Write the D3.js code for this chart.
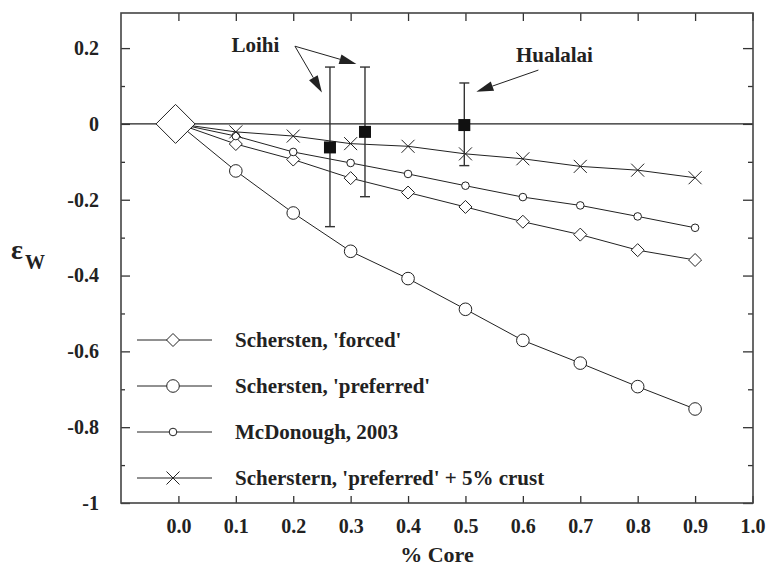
<!DOCTYPE html>
<html>
<head>
<meta charset="utf-8">
<script src="https://cdn.jsdelivr.net/npm/d3@7"></script>
<style>
  body { margin: 0; background: #fff; }
  svg { display: block; }
  text { font-family: "Liberation Serif", "Times New Roman", serif; font-weight: bold; fill: #222; }
</style>
</head>
<body>
<svg width="767" height="568"></svg>
<script>
var width = 767;
var height = 568;

// % core on x
var coreFrac = [0, 0.1, 0.2, 0.3, 0.4, 0.5, 0.6, 0.7, 0.8, 0.9];

// model curves (eps W)
var forced    = [0, -0.053, -0.094, -0.143, -0.181, -0.219, -0.258, -0.292, -0.333, -0.359];
var preferred = [0, -0.124, -0.235, -0.336, -0.408, -0.489, -0.571, -0.631, -0.693, -0.752];
var mcdonough = [0, -0.032, -0.074, -0.103, -0.132, -0.163, -0.193, -0.215, -0.244, -0.274];
var crust     = [0, -0.021, -0.032, -0.052, -0.059, -0.079, -0.092, -0.112, -0.122, -0.142];

var legendLabels = ["Schersten, 'forced'", "Schersten, 'preferred'", "McDonough, 2003", "Scherstern, 'preferred' + 5% crust"];

// measured samples
var sampleX  = [0.264, 0.325, 0.498];
var sampleY  = [-0.062, -0.021, -0.003];
var sampleHi = [0.15, 0.15, 0.108];
var sampleLo = [-0.271, -0.192, -0.11];

var xTicks = [0, 0.1, 0.2, 0.3, 0.4, 0.5, 0.6, 0.7, 0.8, 0.9, 1.0];
var yTicks = [0.2, 0, -0.2, -0.4, -0.6, -0.8, -1];
var yTickLabels = ["0.2", "0", "-0.2", "-0.4", "-0.6", "-0.8", "-1"];
var yMinor = [0.1, -0.1, -0.3, -0.5, -0.7, -0.9];

var plotLeft = 121, plotRight = 753, plotTop = 13, plotBottom = 503;

var x = d3.scaleLinear().domain([-0.1, 1.0]).range([plotLeft, 752.5]);
var y = d3.scaleLinear().domain([-1, 0.2926]).range([plotBottom, plotTop]);

var chart = d3.select('svg');
var ink = "#222";

// zero line
chart.append("line")
    .attr("x1", plotLeft).attr("x2", plotRight)
    .attr("y1", y(0)).attr("y2", y(0))
    .attr("stroke", ink).attr("stroke-width", 1.2);

// axes (ticks pointing inward, no domain path)
function tidy(g) { g.select(".domain").remove(); g.selectAll("line").attr("stroke", "#333").attr("stroke-width", 1.3); }

chart.append("g").attr("transform", "translate(0," + plotBottom + ")")
    .call(d3.axisBottom(x).tickValues(xTicks).tickSize(-7).tickPadding(16).tickFormat(d3.format(".1f")))
    .call(tidy)
    .selectAll("text").attr("font-size", "20px").attr("font-family", null).attr("fill", ink);
chart.append("g").attr("transform", "translate(0," + plotTop + ")")
    .call(d3.axisTop(x).tickValues(xTicks).tickSize(-8).tickFormat(""))
    .call(tidy);

chart.append("g").attr("transform", "translate(" + plotLeft + ",0)")
    .call(d3.axisLeft(y).tickValues(yTicks).tickSize(-9).tickPadding(22)
        .tickFormat(function (d, i) { return yTickLabels[i]; }))
    .call(tidy)
    .selectAll("text").attr("font-size", "20px").attr("font-family", null).attr("fill", ink);
chart.append("g").attr("transform", "translate(" + plotLeft + ",0)")
    .call(d3.axisLeft(y).tickValues(yMinor).tickSize(-4).tickFormat(""))
    .call(tidy);
chart.append("g").attr("transform", "translate(" + plotRight + ",0)")
    .call(d3.axisRight(y).tickValues(yTicks).tickSize(-10).tickFormat(""))
    .call(tidy);
chart.append("g").attr("transform", "translate(" + plotRight + ",0)")
    .call(d3.axisRight(y).tickValues(yMinor).tickSize(-5).tickFormat(""))
    .call(tidy);

// frame
chart.append("rect")
    .attr("x", plotLeft).attr("y", plotTop)
    .attr("width", plotRight - plotLeft).attr("height", plotBottom - plotTop)
    .attr("fill", "none").attr("stroke", "#444").attr("stroke-width", 1.6);

// marker drawers
function diamond(g, r) {
    g.append("path").attr("d", "M0," + (-r) + "L" + r + ",0L0," + r + "L" + (-r) + ",0Z")
        .attr("fill", "#fff").attr("stroke", ink).attr("stroke-width", 1);
}
function circle(g, r) {
    g.append("circle").attr("r", r).attr("fill", "#fff").attr("stroke", ink).attr("stroke-width", 1);
}
function cross(g, r) {
    g.append("path").attr("d", "M" + (-r) + "," + (-r) + "L" + r + "," + r + "M" + (-r) + "," + r + "L" + r + "," + (-r))
        .attr("fill", "none").attr("stroke", ink).attr("stroke-width", 1);
}

var series = [
    { values: forced, draw: function (g) { diamond(g, 6.5); } },
    { values: preferred, draw: function (g) { circle(g, 6.3); } },
    { values: mcdonough, draw: function (g) { circle(g, 3.8); } },
    { values: crust, draw: function (g) { cross(g, 6.5); } }
];

var line = d3.line()
    .x(function (d) { return x(d[0]); })
    .y(function (d) { return y(d[1]); });

series.forEach(function (s) {
    var pts = coreFrac.map(function (c, i) { return [c, s.values[i]]; });
    chart.append("path").attr("d", line(pts))
        .attr("fill", "none").attr("stroke", ink).attr("stroke-width", 1);
    pts.slice(1).forEach(function (p) {
        var g = chart.append("g").attr("transform", "translate(" + x(p[0]) + "," + y(p[1]) + ")");
        s.draw(g);
    });
});

// big diamond at origin
var origin = chart.append("g").attr("transform", "translate(" + x(-0.005) + "," + y(0) + ")");
diamond(origin, 19.5);

// error bars and squares
sampleX.forEach(function (sx, i) {
    var cx = x(sx);
    chart.append("line").attr("x1", cx).attr("x2", cx)
        .attr("y1", y(sampleHi[i])).attr("y2", y(sampleLo[i]))
        .attr("stroke", "#333").attr("stroke-width", 1.4);
    [sampleHi[i], sampleLo[i]].forEach(function (v) {
        chart.append("line").attr("x1", cx - 5).attr("x2", cx + 5)
            .attr("y1", y(v)).attr("y2", y(v))
            .attr("stroke", "#333").attr("stroke-width", 1.4);
    });
    chart.append("rect")
        .attr("x", cx - 6).attr("y", y(sampleY[i]) - 6)
        .attr("width", 12).attr("height", 12)
        .attr("fill", "#111");
});

// annotations with arrows
function arrow(x0, y0, x1, y1) {
    var ax = x(x0), ay = y(y0), bx = x(x1), by = y(y1);
    var dx = bx - ax, dy = by - ay, len = Math.sqrt(dx * dx + dy * dy);
    var ux = dx / len, uy = dy / len;
    var hl = 17, hw = 5;
    var baseX = bx - ux * hl, baseY = by - uy * hl;
    chart.append("line").attr("x1", ax).attr("y1", ay).attr("x2", baseX).attr("y2", baseY)
        .attr("stroke", ink).attr("stroke-width", 1);
    chart.append("path")
        .attr("d", "M" + bx + "," + by +
            "L" + (baseX - uy * hw) + "," + (baseY + ux * hw) +
            "L" + (baseX + uy * hw) + "," + (baseY - ux * hw) + "Z")
        .attr("fill", ink);
}

chart.append("text").attr("x", x(0.134)).attr("y", y(0.19))
    .attr("text-anchor", "middle").attr("font-size", "21px").text("Loihi");
arrow(0.203, 0.205, 0.250, 0.083);
arrow(0.203, 0.205, 0.310, 0.158);

chart.append("text").attr("x", x(0.655)).attr("y", y(0.163))
    .attr("text-anchor", "middle").attr("font-size", "21px").text("Hualalai");
arrow(0.627, 0.142, 0.519, 0.085);

// legend
var legendRows = [340, 386, 432, 478];
series.forEach(function (s, i) {
    var ry = legendRows[i];
    chart.append("line").attr("x1", 137).attr("x2", 212)
        .attr("y1", ry).attr("y2", ry)
        .attr("stroke", ink).attr("stroke-width", 1);
    var g = chart.append("g").attr("transform", "translate(173," + ry + ")");
    s.draw(g);
    chart.append("text").attr("x", 235).attr("y", ry + 7)
        .attr("font-size", "21px").text(legendLabels[i]);
});

// axis titles
chart.append("text").attr("x", (plotLeft + plotRight) / 2).attr("y", 562)
    .attr("text-anchor", "middle").attr("font-size", "22px").text("% Core");
chart.append("text").attr("x", 11).attr("y", 259)
    .attr("font-size", "28px").text("\u03b5");
chart.append("text").attr("x", 25).attr("y", 269)
    .attr("font-size", "20px").text("W");
</script>
</body>
</html>
